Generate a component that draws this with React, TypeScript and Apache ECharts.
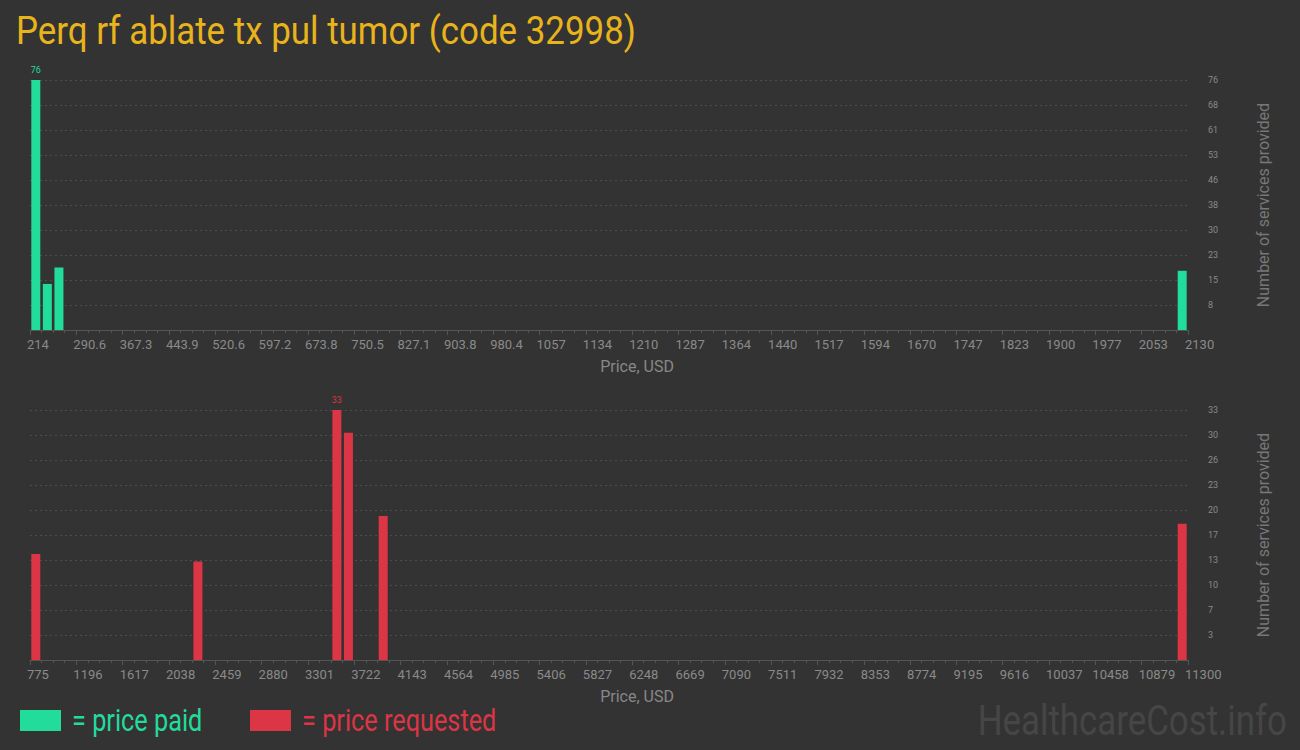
import React, { useEffect, useRef } from 'react';
import * as echarts from 'echarts';

// Histogram data (bin centres in USD, counts)
const paidPrices = [223.6, 242.7, 261.9, 2120.4];
const paidCounts = [76, 14, 19, 18];
const requestedPrices = [827.6, 2301.1, 3564.1, 3669.4, 3985.1, 11247.4];
const requestedCounts = [14, 13, 33, 30, 19, 18];

const paidXTicks = ['214', '290.6', '367.3', '443.9', '520.6', '597.2', '673.8', '750.5', '827.1', '903.8', '980.4', '1057', '1134', '1210', '1287', '1364', '1440', '1517', '1594', '1670', '1747', '1823', '1900', '1977', '2053', '2130'];
const requestedXTicks = ['775', '1196', '1617', '2038', '2459', '2880', '3301', '3722', '4143', '4564', '4985', '5406', '5827', '6248', '6669', '7090', '7511', '7932', '8353', '8774', '9195', '9616', '10037', '10458', '10879', '11300'];
const paidYTicks = ['8', '15', '23', '30', '38', '46', '53', '61', '68', '76'];
const requestedYTicks = ['3', '7', '10', '13', '17', '20', '23', '26', '30', '33'];

const paidRange = [214, 2130];
const requestedRange = [775, 11300];
const paidMaxCount = 76;
const requestedMaxCount = 33;

const FONT = 'Roboto, sans-serif';
const GREEN = '#22dc9c';
const RED = '#dc3545';
const BG = '#333333';

const makeXAxis = (gridIndex: number, range: number[], ticks: string[]) => {
  const step = (range[1] - range[0]) / (ticks.length - 1);
  return {
    type: 'value' as const,
    gridIndex,
    min: 0,
    max: range[1] - range[0],
    interval: step,
    name: 'Price, USD',
    nameLocation: 'middle' as const,
    nameGap: 28,
    nameTextStyle: { color: '#888', fontSize: 16, fontFamily: FONT, padding: [0, 0, 0, 56] },
    axisLine: { show: true, lineStyle: { color: '#555' } },
    axisTick: { show: true, length: 5, lineStyle: { color: '#555' } },
    minorTick: { show: true, splitNumber: 4, length: 3, lineStyle: { color: '#555' } },
    splitLine: { show: false },
    minorSplitLine: { show: false },
    axisLabel: {
      color: '#8a8a8a',
      fontSize: 13,
      fontFamily: FONT,
      align: 'left' as const,
      margin: 8,
      padding: [0, 0, 0, -3],
      showMinLabel: true,
      showMaxLabel: true,
      formatter: (v: number) => ticks[Math.round(v / step)] ?? ''
    }
  };
};

const makeYAxis = (gridIndex: number, max: number, ticks: string[]) => {
  const step = max / ticks.length;
  return {
    type: 'value' as const,
    gridIndex,
    position: 'right' as const,
    min: 0,
    max,
    interval: step,
    name: 'Number of services provided',
    nameLocation: 'middle' as const,
    nameRotate: 90,
    nameGap: 67,
    nameTextStyle: { color: '#777', fontSize: 16, fontFamily: FONT },
    axisLine: { show: false },
    axisTick: { show: false },
    splitLine: { show: true, lineStyle: { color: '#4d4d4d', type: [2, 3] } },
    axisLabel: {
      color: '#8a8a8a',
      fontSize: 9,
      fontFamily: FONT,
      margin: 20,
      formatter: (v: number) => (v === 0 ? '' : ticks[Math.round(v / step) - 1] ?? '')
    }
  };
};

const makeData = (prices: number[], counts: number[], min: number, color: string) => {
  const top = Math.max(...counts);
  return prices.map((p, i) => ({
    value: [p - min, counts[i]],
    label: counts[i] === top
      ? { show: true, position: 'top', distance: 6, color, fontSize: 9, fontFamily: FONT }
      : { show: false }
  }));
};

// condensed look: the reference font is narrow, so the free texts are squeezed
const legendItem = (x: number, color: string, label: string) => [
  { type: 'rect', x, y: 710, shape: { width: 41, height: 21 }, style: { fill: color }, silent: true },
  {
    type: 'text',
    x: x + 52,
    y: 720,
    scaleX: 0.79,
    silent: true,
    style: { text: label, fill: color, font: `32px ${FONT}`, textVerticalAlign: 'middle' }
  }
];

const App: React.FC = () => {
  const chartRef = useRef<HTMLDivElement>(null);

  useEffect(() => {
    document.body.style.margin = '0';
    document.body.style.background = BG;
    if (!chartRef.current) return;
    const chart = echarts.init(chartRef.current, null, { renderer: 'svg' });

    chart.setOption({
      animation: false,
      backgroundColor: BG,
      graphic: [
        {
          type: 'text',
          x: 16,
          y: 30.5,
          scaleX: 0.895,
          silent: true,
          style: {
            text: 'Perq rf ablate tx pul tumor (code 32998)',
            fill: '#e9b31c',
            font: `39px ${FONT}`,
            textVerticalAlign: 'middle'
          }
        },
        ...legendItem(20, GREEN, '= price paid'),
        ...legendItem(250, RED, '= price requested'),
        {
          type: 'text',
          x: 1287,
          y: 720.5,
          scaleX: 0.83,
          silent: true,
          style: {
            text: 'HealthcareCost.info',
            fill: '#464646',
            font: `42px ${FONT}`,
            textAlign: 'right',
            textVerticalAlign: 'middle'
          }
        }
      ],
      grid: [
        { left: 30, right: 112, top: 80, height: 250 },
        { left: 30, right: 112, top: 410, height: 250 }
      ],
      xAxis: [
        makeXAxis(0, paidRange, paidXTicks),
        makeXAxis(1, requestedRange, requestedXTicks)
      ],
      yAxis: [
        makeYAxis(0, paidMaxCount, paidYTicks),
        makeYAxis(1, requestedMaxCount, requestedYTicks)
      ],
      series: [
        {
          name: 'price paid',
          type: 'bar',
          xAxisIndex: 0,
          yAxisIndex: 0,
          barWidth: 9,
          itemStyle: { color: GREEN },
          data: makeData(paidPrices, paidCounts, paidRange[0], GREEN)
        },
        {
          name: 'price requested',
          type: 'bar',
          xAxisIndex: 1,
          yAxisIndex: 1,
          barWidth: 9,
          itemStyle: { color: RED },
          data: makeData(requestedPrices, requestedCounts, requestedRange[0], RED)
        }
      ]
    });

    return () => {
      chart.dispose();
    };
  }, []);

  return <div ref={chartRef} style={{ width: 1300, height: 750 }} />;
};

export default App;
